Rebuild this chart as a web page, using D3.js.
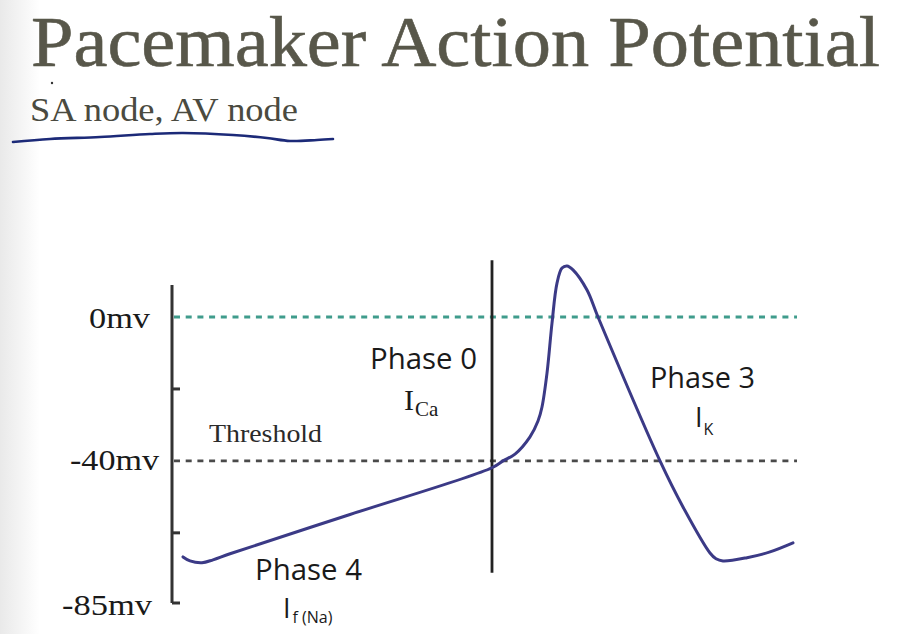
<!DOCTYPE html>
<html>
<head>
<meta charset="utf-8">
<script src="https://cdn.jsdelivr.net/npm/d3@7/dist/d3.min.js"></script>
<style>
  html, body { margin: 0; padding: 0; background: #ffffff; }
  svg { display: block; }
</style>
</head>
<body>
<script>
// ---- data (time in arbitrary units, membrane potential in mV) ----
const timeValues = [11, 18, 30, 41, 58, 178, 320, 331, 343, 358, 366, 370, 375, 380, 385, 390, 395, 401, 415, 426, 488, 511, 538, 544, 551, 575, 598, 621];
const mvValues   = [-66.7, -67.8, -68.3, -67.5, -65.8, -54.9, -41.9, -40, -38.1, -33.3, -28.9, -25, -15.6, -1.7, 9.4, 13.6, 14.2, 13.1, 7.5, 0, -40, -52.8, -65.6, -67.2, -67.8, -66.9, -65.3, -62.8];
const refLevels  = [0, -40];                 // dashed reference lines
const tickLabels = ["0mv", "-40mv", "-85mv"]; // y labels (last one sits at axis end)
const minorTicks = [-20, -60];
const phase0Time = 320;                      // vertical marker
const phase0Span = [15.8, -71.1];

const W = 903, H = 634;
const svg = d3.select("body").append("svg").attr("width", W).attr("height", H);

// faint left-edge vignette like the slide capture
const defs = svg.append("defs");
const grad = defs.append("linearGradient").attr("id", "vig").attr("x1", 0).attr("x2", 1);
grad.append("stop").attr("offset", 0).attr("stop-color", "#e9e9e9");
grad.append("stop").attr("offset", 1).attr("stop-color", "#ffffff");
svg.append("rect").attr("x", 0).attr("y", 0).attr("width", 40).attr("height", H).attr("fill", "url(#vig)");

const x = d3.scaleLinear().domain([0, 625]).range([172, 797]);
const y = d3.scaleLinear().domain([-79.5, 8.9]).range([603, 285]);

// ---- title ----
svg.append("text").attr("x", 31).attr("y", 66)
  .attr("font-family", "Liberation Serif, serif").attr("font-size", 72)
  .attr("fill", "#58574a").attr("stroke", "#58574a").attr("stroke-width", 0.6)
  .attr("textLength", 849).attr("lengthAdjust", "spacingAndGlyphs")
  .text("Pacemaker Action Potential");
svg.append("text").attr("x", 30).attr("y", 121)
  .attr("font-family", "Liberation Serif, serif").attr("font-size", 33)
  .attr("fill", "#4a4a40").attr("textLength", 268).attr("lengthAdjust", "spacingAndGlyphs")
  .text("SA node, AV node");
svg.append("circle").attr("cx", 52).attr("cy", 83).attr("r", 1.2).attr("fill", "#333");
// hand-drawn underline
const ul = [[13,142],[50,139],[100,137],[150,134],[183,133],[233,135],[267,138],[290,141],[317,140],[333,139]];
svg.append("path").attr("d", d3.line().curve(d3.curveCatmullRom)(ul))
  .attr("fill", "none").attr("stroke", "#1c2a78").attr("stroke-width", 2.6).attr("stroke-linecap", "round");

// ---- reference dashed lines ----
const refColors = ["#3f9c8c", "#4a4a4a"];
svg.selectAll("line.ref").data(refLevels).enter().append("line")
  .attr("class", "ref")
  .attr("x1", x(0) + 2).attr("x2", x(625))
  .attr("y1", d => y(d)).attr("y2", d => y(d))
  .attr("stroke", (d, i) => refColors[i]).attr("stroke-width", 2.8)
  .attr("stroke-dasharray", "6,5.7");

// ---- y axis ----
const axisG = svg.append("g").attr("stroke", "#333").attr("stroke-width", 3).attr("fill", "none");
axisG.append("line").attr("x1", x(0)).attr("x2", x(0)).attr("y1", y(8.9)).attr("y2", y(-79.5));
axisG.selectAll("line.tk").data(minorTicks.concat([-79.5])).enter().append("line")
  .attr("class", "tk")
  .attr("x1", x(0)).attr("x2", x(0) + 8)
  .attr("y1", d => y(d)).attr("y2", d => y(d));

const labelPos = [0, -40, -79.5];
const labelDx = [-22, -13, -20];
const labelDy = [11, 9, 12];
const labelLen = [61, 89, 90];
svg.selectAll("text.yl").data(tickLabels).enter().append("text")
  .attr("class", "yl")
  .attr("x", (d, i) => x(0) + labelDx[i])
  .attr("y", (d, i) => y(labelPos[i]) + labelDy[i])
  .attr("text-anchor", "end")
  .attr("font-family", "Liberation Serif, serif").attr("font-size", 30)
  .attr("textLength", (d, i) => labelLen[i]).attr("lengthAdjust", "spacingAndGlyphs")
  .attr("fill", "#1a1a1a")
  .text(d => d);

// ---- phase 0 vertical marker ----
svg.append("line")
  .attr("x1", x(phase0Time)).attr("x2", x(phase0Time))
  .attr("y1", y(phase0Span[0])).attr("y2", y(phase0Span[1]))
  .attr("stroke", "#222").attr("stroke-width", 2.8);

// ---- action potential curve ----
const pts = timeValues.map((t, i) => [t, mvValues[i]]);
svg.append("path")
  .attr("d", d3.line().x(d => x(d[0])).y(d => y(d[1])).curve(d3.curveCatmullRom.alpha(0.5))(pts))
  .attr("fill", "none").attr("stroke", "#3b3a86").attr("stroke-width", 3)
  .attr("stroke-linejoin", "round").attr("stroke-linecap", "round");

// ---- labels ----
const sans = "Open Sans, Noto Sans, sans-serif";
const serif = "Liberation Serif, serif";
function lab(tx, ty, txt, fam, size, len) {
  const t = svg.append("text").attr("x", tx).attr("y", ty)
    .attr("font-family", fam).attr("font-size", size).attr("fill", "#1a1a1a").text(txt);
  if (len) t.attr("textLength", len).attr("lengthAdjust", "spacingAndGlyphs");
  return t;
}
lab(209, 442, "Threshold", serif, 26, 113).attr("fill", "#2a2a2a");
lab(370, 369, "Phase 0", sans, 29, 107);
lab(650, 388, "Phase 3", sans, 29, 105);
lab(255, 580, "Phase 4", sans, 29, 107);

// currents with subscripts
function current(tx, ty, mainFam, mainSize, sub, subFam, subSize, subDx, subDy) {
  const t = svg.append("text").attr("x", tx).attr("y", ty).attr("fill", "#1a1a1a");
  t.append("tspan").attr("font-family", mainFam).attr("font-size", mainSize).text("I");
  t.append("tspan").attr("font-family", subFam).attr("font-size", subSize)
    .attr("dx", subDx).attr("dy", subDy).text(sub);
}
current(404, 410, serif, 30, "Ca", serif, 21, 1, 6);
current(695, 427, sans, 27, "K", sans, 16, 1, 8);
current(283, 618, sans, 27, "f (Na)", sans, 16, 2, 5);
</script>
</body>
</html>
